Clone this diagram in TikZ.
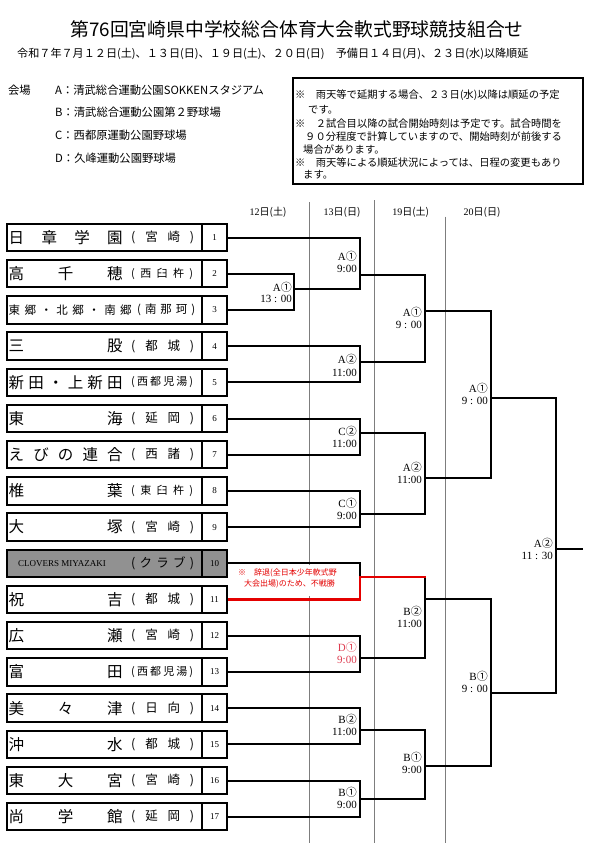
\documentclass[tikz,border=0pt]{standalone}
\usepackage{fontspec}
\setmainfont{Liberation Serif}
\newfontfamily\cjk{Noto Sans CJK JP}
\newcommand\fsz[1]{\fontsize{#1}{#1}\selectfont}
\newcommand\SP[3]{{\cjk\fsz{#1}\makebox[#2pt][s]{#3}}}
\newcommand\RG[2]{\SP{12.5}{63}{(\hfill #1\hfill #2\hfill )}}
\newcommand\RGc[3]{\SP{11}{62}{(\hfill #1\hfill #2\hfill #3\hfill )}}
\newcommand\RGd[4]{\SP{11}{62}{(\hfill #1\hfill #2\hfill #3\hfill #4\hfill )}}
\newcommand\NM[1]{\SP{15.5}{114}{#1}}
\definecolor{redline}{RGB}{228,0,0}
\definecolor{dred}{RGB}{222,60,80}
\definecolor{vgray}{RGB}{125,125,125}
\definecolor{boxgray}{RGB}{145,145,145}
\tikzset{
  namebox/.style={draw, line width=2pt, minimum width=195.4pt, minimum height=27.5pt, inner sep=0pt},
  numbox/.style={draw, line width=2pt, minimum width=25.1pt, minimum height=27.5pt, inner sep=0pt, font={\fsz{9}}},
  txt/.style={inner sep=0pt},
  br/.style={line width=2pt},
  rbr/.style={line width=2.6pt, draw=redline},
  vline/.style={draw=vgray, line width=0.9pt},
  lbl/.style={inner sep=0pt, anchor=east, font={\fsz{11}}},
  hdr/.style={inner sep=0pt, font={\fsz{10}}},
  note/.style={inner sep=0pt, anchor=west, font={\cjk\fsz{10.3}}},
  venue/.style={inner sep=0pt, anchor=west, font={\cjk\fsz{11.3}}}
}
\newcommand\team[5]{%
  \node[namebox,fill=#5] (b#1) at (104.3,{237.5+(#1-1)*36.2}) {};
  \node[numbox,fill=#5] (t#1) at (214.55,{237.5+(#1-1)*36.2}) {#1};
  \node[txt,anchor=west] (nm#1) at (8.5,{237.5+(#1-1)*36.2}) {#2};
  \node[txt,anchor=west] (rg#1) at (#3,{237.5+(#1-1)*36.2}) {#4};
}
\newcommand\lab[7]{%
  \node[lbl,text=#7] (#1a) at (#2,#3) {#4};
  \node[lbl,text=#7] (#1b) at (#2,#5) {#6};
}
\begin{document}
\begin{tikzpicture}[x=1pt,y=-1pt]
\useasboundingbox (0,0) rectangle (594,843);
\fill[white] (0,0) rectangle (594,843);

% title and subtitle
\node[txt] (title) at (297,29) {\cjk\fsz{18.8}第76回宮崎県中学校総合体育大会軟式野球競技組合せ};
\node[txt,anchor=west] (sub) at (17,53.5) {\cjk\fsz{11.1}令和７年７月１２日(土)、１３日(日)、１９日(土)、２０日(日)　予備日１４日(月)、２３日(水)以降順延};

% venues
\node[venue] (vh) at (8,90) {会場};
\node[venue] (va) at (55,90) {A：清武総合運動公園SOKKENスタジアム};
\node[venue] (vb) at (55,112.5) {B：清武総合運動公園第２野球場};
\node[venue] (vc) at (55,135) {C：西都原運動公園野球場};
\node[venue] (vd) at (55,158.5) {D：久峰運動公園野球場};

% notes box
\node[draw, line width=2pt, minimum width=289.5pt, minimum height=106pt, inner sep=0pt] (notebox) at (437.75,131) {};
\node[note] (n1l) at (295,95) {※　雨天等で延期する場合、２３日(水)以降は順延の予定};
\node[note] (n2l) at (308,109.3) {です。};
\node[note] (n3l) at (295,123.3) {※　２試合目以降の試合開始時刻は予定です。試合時間を};
\node[note] (n4l) at (305,136.7) {９０分程度で計算していますので、開始時刻が前後する};
\node[note] (n5l) at (303,149.3) {場合があります。};
\node[note] (n6l) at (295,162.7) {※　雨天等による順延状況によっては、日程の変更もあり};
\node[note] (n7l) at (303,175) {ます。};

% day columns
\draw[vline] (309,202) -- (309,843);
\draw[vline] (374.3,200) -- (374.3,843);
\draw[vline] (445.7,216.5) -- (445.7,843);
\node[hdr] (h1) at (268,212.5) {12{\cjk 日(土)}};
\node[hdr] (h2) at (342,212) {13{\cjk 日(日)}};
\node[hdr] (h3) at (410.7,212) {19{\cjk 日(土)}};
\node[hdr] (h4) at (482,212) {20{\cjk 日(日)}};

% teams
\team{1}{\NM{日\hfill 章\hfill 学\hfill 園}}{131}{\RG{宮}{崎}}{white}
\team{2}{\NM{高\hfill 千\hfill 穂}}{131}{\RGc{西}{臼}{杵}}{white}
\team{3}{\SP{11.5}{123}{東\hfill 郷\hfill ・\hfill 北\hfill 郷\hfill ・\hfill 南\hfill 郷}}{137}{\SP{11.5}{58}{(\hfill 南\hfill 那\hfill 珂\hfill )}}{white}
\team{4}{\NM{三\hfill 股}}{131}{\RG{都}{城}}{white}
\team{5}{\NM{新\hfill 田\hfill ・\hfill 上\hfill 新\hfill 田}}{131}{\RGd{西}{都}{児}{湯}}{white}
\team{6}{\NM{東\hfill 海}}{131}{\RG{延}{岡}}{white}
\team{7}{\NM{え\hfill び\hfill の\hfill 連\hfill 合}}{131}{\RG{西}{諸}}{white}
\team{8}{\NM{椎\hfill 葉}}{131}{\RGc{東}{臼}{杵}}{white}
\team{9}{\NM{大\hfill 塚}}{131}{\RG{宮}{崎}}{white}
\team{10}{\hspace*{9.5pt}{\fsz{9}CLOVERS MIYAZAKI}}{131}{\SP{12.5}{63}{(\hfill ク\hfill ラ\hfill ブ\hfill )}}{boxgray}
\team{11}{\NM{祝\hfill 吉}}{131}{\RG{都}{城}}{white}
\team{12}{\NM{広\hfill 瀬}}{131}{\RG{宮}{崎}}{white}
\team{13}{\NM{富\hfill 田}}{131}{\RGd{西}{都}{児}{湯}}{white}
\team{14}{\NM{美\hfill 々\hfill 津}}{131}{\RG{日}{向}}{white}
\team{15}{\NM{沖\hfill 水}}{131}{\RG{都}{城}}{white}
\team{16}{\NM{東\hfill 大\hfill 宮}}{131}{\RG{宮}{崎}}{white}
\team{17}{\NM{尚\hfill 学\hfill 館}}{131}{\RG{延}{岡}}{white}

% match points
\coordinate (m1) at (294,289);
\coordinate (m2) at (360,275);
\coordinate (m3) at (360,362);
\coordinate (m4) at (360,433.3);
\coordinate (m5) at (360,514);
\coordinate (m6) at (360,577);
\coordinate (m7) at (360,657.7);
\coordinate (m8) at (360,730);
\coordinate (m9) at (360,798.7);
\coordinate (n1) at (425,311);
\coordinate (n2) at (425,477.7);
\coordinate (n3t) at (425,577);
\coordinate (n3) at (425,598.5);
\coordinate (n4) at (425,766);
\coordinate (p1) at (490.7,398.3);
\coordinate (p2) at (490.7,693.3);
\coordinate (f) at (555.7,549);
\coordinate (fe) at (583,549);

% white patch behind the red note
\fill[white] (231,565) rectangle (357,596);

% round 1 and 2
\draw[br] (t2.east) -| (m1);
\draw[br] (t3.east) -| (m1);
\draw[br] (t1.east) -| (m2);
\draw[br] (m1) -| (m2);
\draw[br] (t4.east) -| (m3);
\draw[br] (t5.east) -| (m3);
\draw[br] (t6.east) -| (m4);
\draw[br] (t7.east) -| (m4);
\draw[br] (t8.east) -| (m5);
\draw[br] (t9.east) -| (m5);
\draw[br] (t10.east) -| (m6);
\draw[br] (t12.east) -| (m7);
\draw[br] (t13.east) -| (m7);
\draw[br] (t14.east) -| (m8);
\draw[br] (t15.east) -| (m8);
\draw[br] (t16.east) -| (m9);
\draw[br] (t17.east) -| (m9);
% round 3
\draw[br] (m2) -| (n1);
\draw[br] (m3) -| (n1);
\draw[br] (m4) -| (n2);
\draw[br] (m5) -| (n2);
\draw[br] (n3t) -- (n3);
\draw[br] (m7) -| (n3);
\draw[br] (m8) -| (n4);
\draw[br] (m9) -| (n4);
% round 4 and final
\draw[br] (n1) -| (p1);
\draw[br] (n2) -| (p1);
\draw[br] (n3) -| (p2);
\draw[br] (n4) -| (p2);
\draw[br] (p1) -| (f);
\draw[br] (p2) -| (f);
\draw[br] (f) -- (fe);
% red walkover path
\draw[rbr] (t11.east) -| (m6) -- ([xshift=1pt]n3t);

% red note
\node[txt,anchor=west,text=redline] (rn1) at (238,573.3) {\cjk\fsz{8}※　辞退(全日本少年軟式野};
\node[txt,anchor=west,text=redline] (rn2) at (244,584.3) {\cjk\fsz{8}大会出場)のため、不戦勝};

% labels
\lab{lm1}{292}{287}{A{\cjk ①}}{299.3}{13 : 00}{black}
\lab{lm2}{357}{256}{A{\cjk ①}}{269}{9:00}{black}
\lab{lm3}{357}{359.3}{A{\cjk ②}}{372.7}{11:00}{black}
\lab{lm4}{357}{431.7}{C{\cjk ②}}{444}{11:00}{black}
\lab{lm5}{357}{503}{C{\cjk ①}}{516}{9:00}{black}
\lab{lm7}{357}{647.3}{D{\cjk ①}}{660}{9:00}{dred}
\lab{lm8}{357}{719}{B{\cjk ②}}{732}{11:00}{black}
\lab{lm9}{357}{792.3}{B{\cjk ①}}{805}{9:00}{black}
\lab{ln1}{422}{312.7}{A{\cjk ①}}{325}{9 : 00}{black}
\lab{ln2}{422}{467}{A{\cjk ②}}{480}{11:00}{black}
\lab{ln3}{422}{611.7}{B{\cjk ②}}{624.3}{11:00}{black}
\lab{ln4}{422}{757.7}{B{\cjk ①}}{770}{9:00}{black}
\lab{lp1}{488}{388}{A{\cjk ①}}{401}{9 : 00}{black}
\lab{lp2}{488}{676}{B{\cjk ①}}{689}{9 : 00}{black}
\lab{lf}{553}{543}{A{\cjk ②}}{556}{11 : 30}{black}
\end{tikzpicture}
\end{document}
